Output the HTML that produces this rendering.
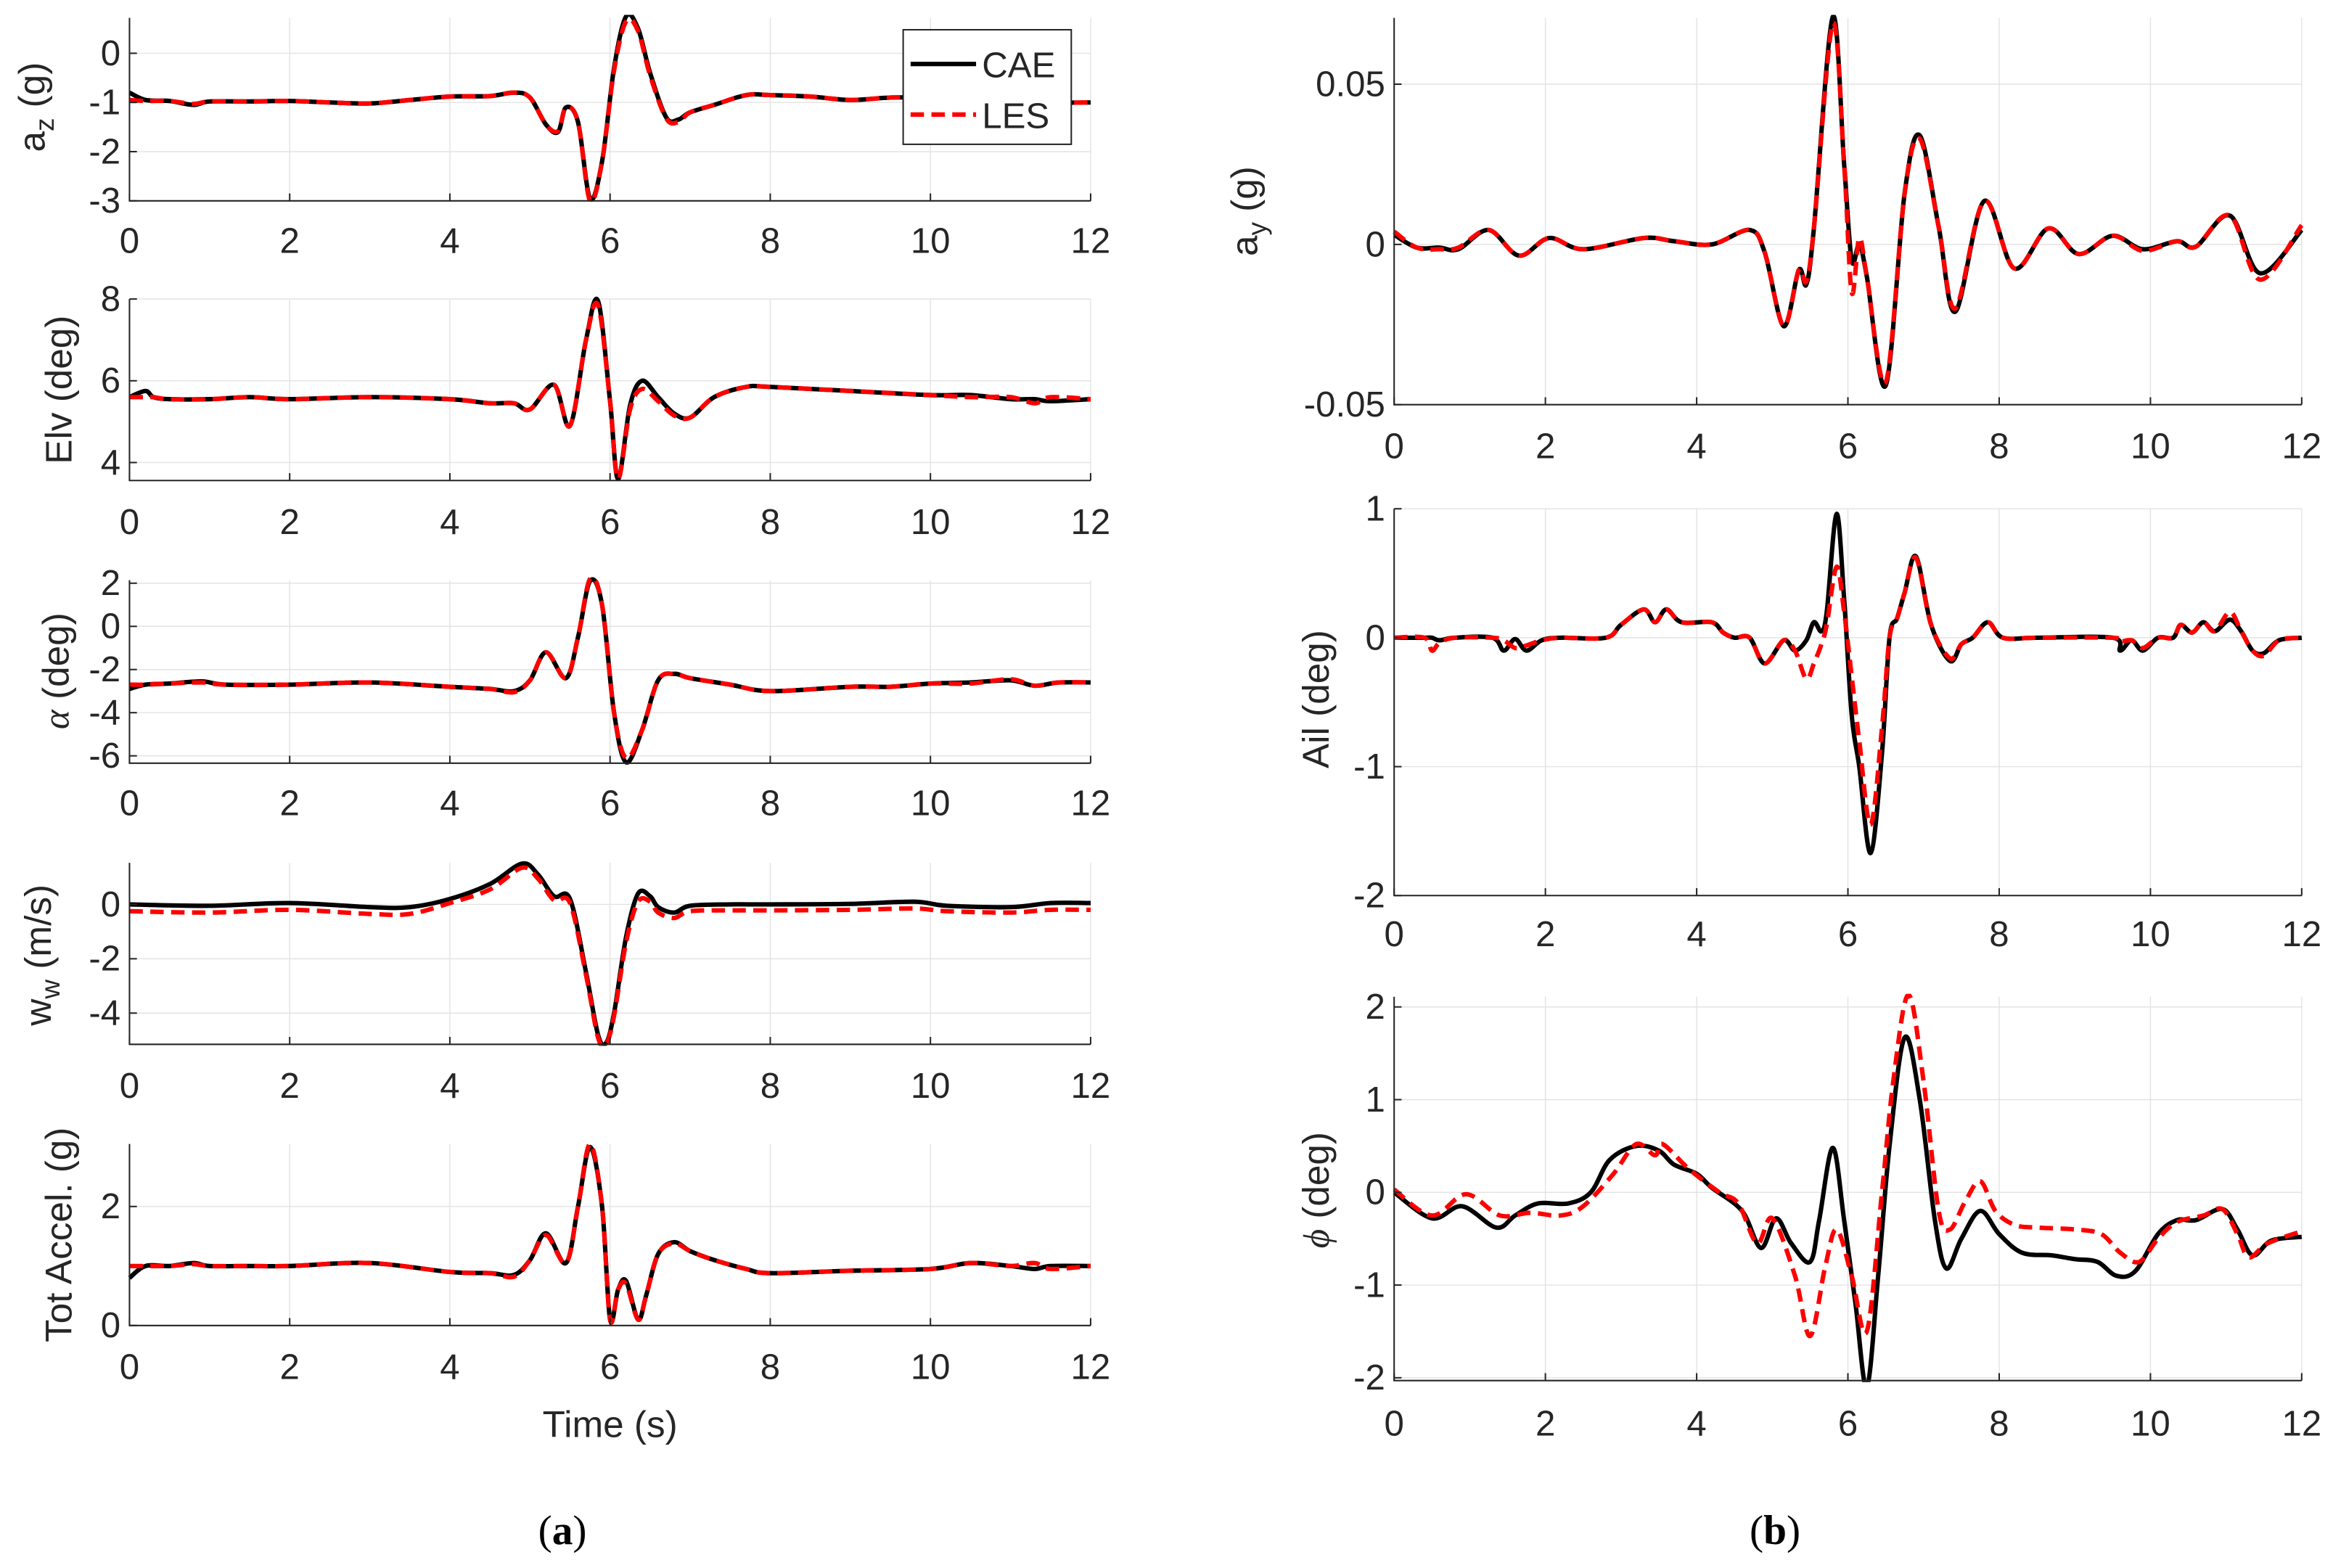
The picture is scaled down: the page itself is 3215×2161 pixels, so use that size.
<!DOCTYPE html>
<html><head><meta charset="utf-8">
<style>
html,body{margin:0;padding:0;background:#fff;}
svg{display:block;}
text{font-family:"Liberation Sans",Arial,sans-serif;fill:#262626;}
</style></head>
<body>
<svg id="fig" width="3215" height="2161" viewBox="0 0 1568 1054" xmlns="http://www.w3.org/2000/svg">
<g id="root"></g>
</svg>
<script>
// ---------- data ----------
const xTicks = [0,2,4,6,8,10,12];

const azT   = [0,0.2,0.5,0.8,1,1.5,2,2.5,3,3.5,4,4.5,4.8,5.0,5.2,5.35,5.45,5.6,5.75,5.9,6.05,6.2,6.35,6.5,6.7,6.85,7.0,7.3,7.7,8,8.5,9,9.5,10,10.5,11,11.5,12];
const azCAE = [-0.8,-0.95,-0.97,-1.05,-0.98,-0.98,-0.97,-1.0,-1.02,-0.95,-0.88,-0.87,-0.8,-0.9,-1.45,-1.6,-1.1,-1.4,-2.95,-2.2,-0.3,0.75,0.5,-0.4,-1.3,-1.35,-1.2,-1.05,-0.85,-0.85,-0.88,-0.95,-0.9,-0.9,-0.9,-0.95,-1,-1];
const azLES = [-0.95,-0.97,-0.97,-1.03,-0.98,-0.98,-0.97,-1.0,-1.02,-0.95,-0.88,-0.87,-0.8,-0.9,-1.45,-1.58,-1.1,-1.4,-3.0,-2.2,-0.35,0.65,0.45,-0.45,-1.32,-1.4,-1.2,-1.05,-0.85,-0.85,-0.88,-0.95,-0.9,-0.9,-0.9,-0.95,-1,-1];
const azTicks = [0,-1,-2,-3];

const elvT   = [0,0.2,0.3,0.5,1,1.5,2,3,4,4.5,4.8,5,5.3,5.5,5.7,5.85,6.0,6.1,6.25,6.4,6.6,6.8,7.0,7.3,7.7,8,9,10,10.5,11,11.3,11.5,12];
const elvCAE = [5.6,5.75,5.6,5.55,5.55,5.6,5.55,5.6,5.55,5.45,5.45,5.3,5.9,4.9,7.0,7.95,5.5,3.6,5.4,6.0,5.6,5.2,5.1,5.6,5.85,5.85,5.75,5.65,5.65,5.55,5.55,5.5,5.55];
const elvLES = [5.6,5.6,5.6,5.55,5.55,5.6,5.55,5.6,5.55,5.45,5.45,5.3,5.9,4.9,7.0,7.85,5.5,3.6,5.3,5.8,5.5,5.15,5.1,5.6,5.85,5.85,5.75,5.65,5.6,5.6,5.45,5.6,5.55];
const elvTicks = [4,6,8];

const alT   = [0,0.2,0.5,0.9,1.2,2,3,4,4.5,4.8,5.0,5.2,5.45,5.6,5.75,5.9,6.05,6.2,6.4,6.6,6.8,7.0,7.5,8,9,9.5,10,10.5,11,11.3,11.6,12];
const alCAE = [-2.9,-2.7,-2.65,-2.55,-2.7,-2.7,-2.6,-2.8,-2.9,-3.0,-2.5,-1.2,-2.4,-0.5,2.1,1.0,-4.0,-6.3,-4.8,-2.5,-2.2,-2.4,-2.7,-3.0,-2.8,-2.8,-2.65,-2.6,-2.5,-2.75,-2.6,-2.6];
const alLES = [-2.7,-2.7,-2.65,-2.6,-2.7,-2.7,-2.6,-2.8,-2.9,-3.05,-2.5,-1.2,-2.4,-0.5,2.2,1.0,-4.0,-6.1,-4.8,-2.5,-2.2,-2.4,-2.7,-3.0,-2.8,-2.8,-2.65,-2.65,-2.45,-2.75,-2.6,-2.6];
const alTicks = [2,0,-2,-4,-6];

const wwT   = [0,1,2,3,3.5,4,4.5,4.9,5.1,5.3,5.5,5.7,5.85,5.95,6.05,6.2,6.35,6.5,6.6,6.8,7.0,7.5,8,9,9.8,10.2,11,11.5,12];
const wwCAE = [0,-0.05,0.05,-0.1,-0.1,0.2,0.75,1.5,1.1,0.3,0.2,-2.5,-4.8,-5.1,-4.0,-1.2,0.4,0.3,-0.1,-0.3,-0.05,0,0,0.02,0.1,-0.05,-0.1,0.05,0.05];
const wwLES = [-0.25,-0.3,-0.2,-0.35,-0.35,0.05,0.55,1.35,0.95,0.15,0.05,-2.6,-4.9,-5.15,-4.1,-1.4,0.1,0.1,-0.3,-0.5,-0.25,-0.22,-0.22,-0.2,-0.15,-0.25,-0.3,-0.2,-0.2];
const wwTicks = [0,-2,-4];

const taT   = [0,0.2,0.5,0.8,1,1.5,2,3,4,4.5,4.8,5.0,5.2,5.45,5.6,5.75,5.9,6.0,6.1,6.2,6.35,6.45,6.6,6.8,7.0,7.3,7.7,8,9,10,10.5,11,11.3,11.5,12];
const taCAE = [0.8,1.0,1.0,1.05,1.0,1.0,1.0,1.05,0.9,0.88,0.85,1.1,1.55,1.05,2.0,3.0,2.0,0.1,0.6,0.75,0.1,0.5,1.2,1.4,1.25,1.1,0.95,0.88,0.92,0.95,1.05,1.0,0.95,1.0,1.0];
const taLES = [1.0,1.0,1.0,1.03,1.0,1.0,1.0,1.05,0.9,0.88,0.82,1.1,1.52,1.05,2.0,3.05,2.0,0.1,0.6,0.7,0.1,0.5,1.2,1.38,1.25,1.1,0.95,0.88,0.92,0.95,1.05,1.0,1.05,0.95,1.0];
const taTicks = [0,2];

const ayT   = [0,0.3,0.6,0.85,1.25,1.65,2.05,2.5,3.3,3.7,4.2,4.7,4.9,5.15,5.35,5.45,5.55,5.8,5.95,6.05,6.15,6.25,6.5,6.75,6.95,7.2,7.42,7.8,8.2,8.65,9.05,9.5,9.9,10.35,10.6,11.05,11.45,12];
const ayCAE = [0.003,-0.001,-0.001,-0.0015,0.0045,-0.0035,0.002,-0.0015,0.002,0.001,0,0.0045,-0.0025,-0.0255,-0.008,-0.0125,0.005,0.071,0.025,-0.005,0,-0.01,-0.044,0.016,0.034,0.0055,-0.021,0.0135,-0.0075,0.005,-0.003,0.0027,-0.0015,0.001,-0.0007,0.009,-0.009,0.0045];
const ayLES = [0.004,-0.001,-0.0015,-0.001,0.0045,-0.0035,0.002,-0.0015,0.002,0.001,0,0.0045,-0.0025,-0.0255,-0.008,-0.0115,0.005,0.069,0.025,-0.015,0.002,-0.01,-0.043,0.016,0.033,0.0055,-0.02,0.0135,-0.0075,0.005,-0.003,0.0027,-0.002,0.001,-0.0007,0.009,-0.011,0.006];
const ayTicks = [0.05,0,-0.05];
const ayTickLabels = ['0.05','0','-0.05'];

const ailT   = [0,0.4,0.5,0.6,0.8,1.3,1.45,1.6,1.75,1.95,2.2,2.8,3.0,3.3,3.45,3.6,3.8,4.2,4.35,4.5,4.7,4.9,5.15,5.3,5.45,5.55,5.65,5.72,5.85,5.95,6.05,6.15,6.3,6.45,6.55,6.65,6.75,6.9,7.1,7.35,7.5,7.65,7.85,8.05,8.5,9.5,9.6,9.75,9.9,10.1,10.3,10.4,10.55,10.7,10.85,11.05,11.2,11.35,11.5,11.7,12];
const ailCAE = [0,0,0,-0.02,0,0,-0.1,-0.01,-0.1,-0.02,0,0,0.1,0.22,0.12,0.22,0.12,0.12,0.04,0,0,-0.2,-0.02,-0.1,-0.02,0.12,0.05,0.2,0.96,0.3,-0.6,-1.0,-1.67,-0.9,0,0.15,0.35,0.63,0.1,-0.18,-0.05,0,0.12,0,0,0,-0.1,-0.02,-0.1,0,0,0.1,0.04,0.12,0.05,0.14,0.05,-0.1,-0.12,-0.02,0];
const ailLES = [0,0,-0.1,-0.04,0,0,-0.02,-0.08,-0.06,-0.02,0,0,0.1,0.22,0.12,0.22,0.12,0.12,0.04,0,0,-0.2,-0.02,-0.1,-0.32,-0.2,-0.05,0.1,0.55,0.2,-0.3,-0.8,-1.45,-0.7,0,0.15,0.35,0.62,0.1,-0.16,-0.05,0,0.12,0,0,0,-0.03,-0.02,-0.08,0,0,0.1,0.04,0.12,0.05,0.2,0.05,-0.1,-0.14,-0.02,0];
const ailTicks = [1,0,-1,-2];

const phiT   = [0,0.5,0.9,1.35,1.6,1.9,2.3,2.6,2.85,3.2,3.5,3.7,4.0,4.2,4.6,4.85,5.05,5.25,5.5,5.62,5.8,5.95,6.1,6.25,6.4,6.55,6.75,6.95,7.15,7.3,7.5,7.75,8.0,8.3,8.7,9.0,9.3,9.55,9.8,10.1,10.35,10.6,10.95,11.15,11.35,11.6,12];
const phiCAE = [0,-0.28,-0.15,-0.38,-0.25,-0.12,-0.12,0,0.35,0.5,0.45,0.3,0.2,0.05,-0.2,-0.6,-0.28,-0.55,-0.75,-0.3,0.48,-0.3,-1.2,-2.1,-0.9,0.5,1.67,1.0,-0.3,-0.82,-0.5,-0.2,-0.45,-0.65,-0.68,-0.72,-0.75,-0.9,-0.85,-0.45,-0.3,-0.3,-0.18,-0.4,-0.68,-0.52,-0.48];
const phiLT  = [0,0.5,0.95,1.4,1.8,2.2,2.5,2.9,3.2,3.45,3.55,3.9,4.3,4.55,4.8,5.0,5.3,5.5,5.7,5.85,6.05,6.25,6.45,6.6,6.8,7.0,7.2,7.35,7.55,7.75,7.95,8.2,8.5,9.0,9.35,9.6,9.85,10.1,10.35,10.7,10.95,11.15,11.3,11.55,12];
const phiLES = [0.03,-0.25,-0.02,-0.25,-0.22,-0.25,-0.15,0.2,0.52,0.4,0.52,0.25,0,-0.12,-0.55,-0.28,-0.9,-1.55,-0.8,-0.4,-0.9,-1.5,0,1.2,2.13,1.2,-0.2,-0.4,-0.1,0.12,-0.2,-0.35,-0.38,-0.4,-0.45,-0.65,-0.75,-0.5,-0.32,-0.25,-0.18,-0.45,-0.7,-0.55,-0.42];
const phiTicks = [2,1,0,-1,-2];

// ---------- drawing ----------
const NS = 'http://www.w3.org/2000/svg';
const root = document.getElementById('root');
function mk(tag, attrs, parent){
  const e = document.createElementNS(NS, tag);
  for (const k in attrs) e.setAttribute(k, attrs[k]);
  (parent||root).appendChild(e);
  return e;
}
function smoothPath(pts){
  let d = 'M' + pts[0][0].toFixed(2) + ',' + pts[0][1].toFixed(2);
  for (let i=0;i<pts.length-1;i++){
    const p0 = pts[Math.max(0,i-1)], p1 = pts[i], p2 = pts[i+1], p3 = pts[Math.min(pts.length-1,i+2)];
    const c1x = p1[0] + (p2[0]-p0[0])/6, c1y = p1[1] + (p2[1]-p0[1])/6;
    const c2x = p2[0] - (p3[0]-p1[0])/6, c2y = p2[1] - (p3[1]-p1[1])/6;
    d += ' C' + c1x.toFixed(2)+','+c1y.toFixed(2)+' '+c2x.toFixed(2)+','+c2y.toFixed(2)+' '+p2[0].toFixed(2)+','+p2[1].toFixed(2);
  }
  return d;
}

function panel(cfg){
  const g = mk('g', {});
  
  
  const xs = v => cfg.x0 + (v-0)/(12-0)*(cfg.x1-cfg.x0);
  const ys = v => cfg.y1 - (v-cfg.ymin)/(cfg.ymax-cfg.ymin)*(cfg.y1-cfg.y0);
  xTicks.forEach(t=>{
    const l = mk('line', {x1:xs(t), x2:xs(t), y1:cfg.y0, y2:cfg.y1, stroke:'#e3e3e3', 'stroke-width':0.7}, g);
    
    
  });
  cfg.ticks.forEach(v=>{
    const l = mk('line', {x1:cfg.x0, x2:cfg.x1, y1:ys(v), y2:ys(v), stroke:'#e3e3e3', 'stroke-width':0.7}, g);
    
    
  });
  const clipId = 'clip-' + cfg.name;
  const cp = mk('clipPath', {id: clipId}, g);
  mk('rect', {x:cfg.x0-1, y:cfg.y0-2, width:cfg.x1-cfg.x0+2, height:cfg.y1-cfg.y0+3}, cp);
  const pc = cfg.cae.t.map((t,i)=>[xs(t), ys(cfg.cae.v[i])]);
  const pl = cfg.les.t.map((t,i)=>[xs(t), ys(cfg.les.v[i])]);
  const s1 = mk('path', {d:smoothPath(pc), fill:'none', stroke:'#000', 'stroke-width':3, 'stroke-linejoin':'round', 'clip-path':'url(#'+clipId+')'}, g);
  
  
  const s2 = mk('path', {d:smoothPath(pl), fill:'none', stroke:'#ff0000', 'stroke-width':3, 'stroke-dasharray':'9,5', 'clip-path':'url(#'+clipId+')'}, g);
  
  
  const ax = mk('path', {d:'M'+cfg.x0+','+cfg.y0+' L'+cfg.x0+','+cfg.y1+' L'+cfg.x1+','+cfg.y1, fill:'none', stroke:'#262626', 'stroke-width':1}, g);
  
  
  xTicks.forEach(t=>{
    mk('line', {x1:xs(t), x2:xs(t), y1:cfg.y1, y2:cfg.y1-5, stroke:'#262626', 'stroke-width':1}, g);
    const tx = mk('text', {x:xs(t), y:cfg.xlabY, 'font-size':24, 'text-anchor':'middle'}, g);
    tx.textContent = String(t);
    
    
  });
  cfg.ticks.forEach((v,i)=>{
    mk('line', {x1:cfg.x0, x2:cfg.x0+5, y1:ys(v), y2:ys(v), stroke:'#262626', 'stroke-width':1}, g);
    const tx = mk('text', {x:cfg.x0-6, y:ys(v)+8, 'font-size':24, 'text-anchor':'end'}, g);
    tx.textContent = cfg.tickLabels ? cfg.tickLabels[i] : String(v);
    
    
  });
  const yl = mk('text', {transform:'translate('+cfg.ylx+','+cfg.yly+') rotate(-90)', 'font-size':25, 'text-anchor':'middle'}, g);
  yl.innerHTML = cfg.ylabel;
  
  
  return g;
}

const L = {x0:87, x1:733};
const R = {x0:937, x1:1547};
panel(Object.assign({name:'az-panel', y0:12, y1:135, ymin:-3, ymax:0.72, ticks:azTicks, xlabY:170, ylx:30, yly:72,
  ylabel:'a<tspan font-size="18" dy="6">z</tspan><tspan dy="-6"> (g)</tspan>', cae:{t:azT,v:azCAE}, les:{t:azT,v:azLES}}, L));
panel(Object.assign({name:'elv-panel', y0:201, y1:323, ymin:3.56, ymax:8, ticks:elvTicks, xlabY:359, ylx:48, yly:262,
  ylabel:'Elv (deg)', cae:{t:elvT,v:elvCAE}, les:{t:elvT,v:elvLES}}, L));
panel(Object.assign({name:'alpha-panel', y0:390, y1:513, ymin:-6.34, ymax:2.14, ticks:alTicks, xlabY:548, ylx:46, yly:451,
  ylabel:'<tspan font-family="Liberation Serif" font-style="italic">α</tspan> (deg)', cae:{t:alT,v:alCAE}, les:{t:alT,v:alLES}}, L));
panel(Object.assign({name:'ww-panel', y0:580, y1:702, ymin:-5.15, ymax:1.53, ticks:wwTicks, xlabY:738, ylx:34, yly:642,
  ylabel:'w<tspan font-size="18" dy="6">w</tspan><tspan dy="-6"> (m/s)</tspan>', cae:{t:wwT,v:wwCAE}, les:{t:wwT,v:wwLES}}, L));
panel(Object.assign({name:'tot-accel-panel', y0:769, y1:891, ymin:0, ymax:3.05, ticks:taTicks, xlabY:927, ylx:48, yly:830,
  ylabel:'Tot Accel. (g)', cae:{t:taT,v:taCAE}, les:{t:taT,v:taLES}}, L));
panel(Object.assign({name:'ay-panel', y0:12, y1:272, ymin:-0.05, ymax:0.0707, ticks:ayTicks, tickLabels:ayTickLabels, xlabY:308, ylx:845, yly:142,
  ylabel:'a<tspan font-size="18" dy="6">y</tspan><tspan dy="-6"> (g)</tspan>', cae:{t:ayT,v:ayCAE}, les:{t:ayT,v:ayLES}}, R));
panel(Object.assign({name:'ail-panel', y0:342, y1:602, ymin:-2, ymax:1, ticks:ailTicks, xlabY:636, ylx:893, yly:470,
  ylabel:'Ail (deg)', cae:{t:ailT,v:ailCAE}, les:{t:ailT,v:ailLES}}, R));
panel(Object.assign({name:'phi-panel', y0:670, y1:928, ymin:-2.03, ymax:2.11, ticks:phiTicks, xlabY:965, ylx:893, yly:800,
  ylabel:'<tspan font-family="Liberation Serif" font-style="italic">ϕ</tspan> (deg)', cae:{t:phiT,v:phiCAE}, les:{t:phiLT,v:phiLES}}, R));

const xt = mk('text', {x:410, y:966, 'font-size':25, 'text-anchor':'middle'});
xt.textContent = 'Time (s)';



const lg = mk('g', {});


mk('rect', {x:607, y:20, width:113, height:77, fill:'#fff', stroke:'#262626', 'stroke-width':1}, lg);
mk('line', {x1:612, x2:656, y1:43, y2:43, stroke:'#000', 'stroke-width':3}, lg);
mk('line', {x1:612, x2:656, y1:77, y2:77, stroke:'#ff0000', 'stroke-width':3, 'stroke-dasharray':'9,5'}, lg);
const le1 = mk('text', {x:660, y:52, 'font-size':24}, lg);
le1.textContent = 'CAE';


const le2 = mk('text', {x:660, y:86, 'font-size':24}, lg);
le2.textContent = 'LES';



const ca = mk('text', {x:378, y:1038, 'font-size':28, 'text-anchor':'middle', style:'font-family:"Liberation Serif",serif;fill:#000'});
ca.innerHTML = '(<tspan font-weight="bold">a</tspan>)';


const cb = mk('text', {x:1193, y:1038, 'font-size':28, 'text-anchor':'middle', style:'font-family:"Liberation Serif",serif;fill:#000'});
cb.innerHTML = '(<tspan font-weight="bold">b</tspan>)';


</script>
</body></html>
